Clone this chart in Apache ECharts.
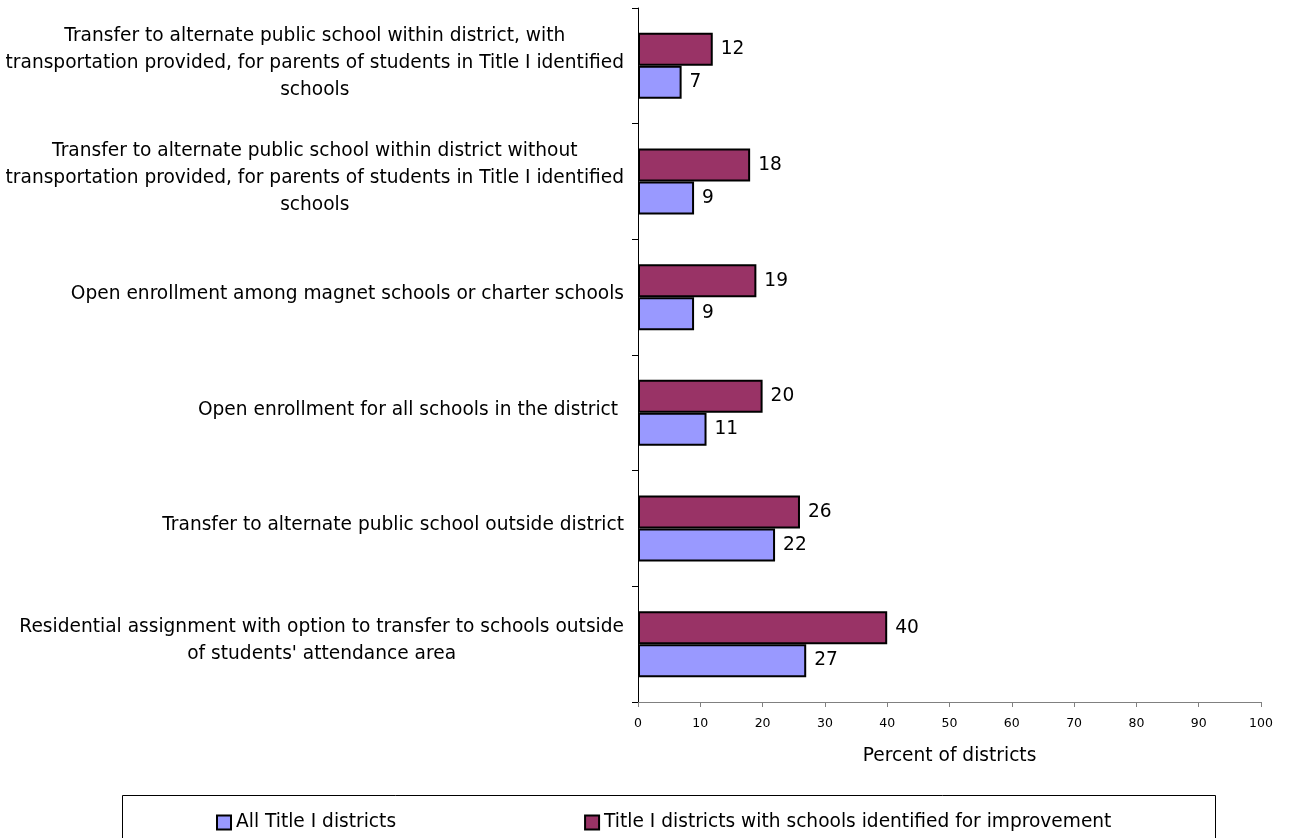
<!DOCTYPE html>
<html>
<head>
<meta charset="utf-8">
<script src="https://cdn.jsdelivr.net/npm/echarts@6/dist/echarts.min.js"></script>
<style>
html,body{margin:0;padding:0;background:#fff;}
#chart{width:1290px;height:838px;}
</style>
</head>
<body>
<div id="chart"></div>
<script>
// Categories, listed top to bottom as in the chart
var categories = [
  "Transfer to alternate public school within district, with\ntransportation provided, for parents of students in Title I identified\nschools",
  "Transfer to alternate public school within district without\ntransportation provided, for parents of students in Title I identified\nschools",
  "Open enrollment among magnet schools or charter schools",
  "Open enrollment for all schools in the district ",
  "Transfer to alternate public school outside district",
  "Residential assignment with option to transfer to schools outside\nof students' attendance area"
];
var seriesNames = ["All Title I districts", "Title I districts with schools identified for improvement"];
var allTitleI = [7, 9, 9, 11, 22, 27];
var identified = [12, 18, 19, 20, 26, 40];
var xTicks = [0, 10, 20, 30, 40, 50, 60, 70, 80, 90, 100];
var xAxisName = "Percent of districts";

var FONT = "DejaVu Sans";
var chart = echarts.init(document.getElementById('chart'), null, {renderer: 'canvas'});

var option = {
  backgroundColor: '#ffffff',
  animation: false,
  textStyle: {fontFamily: FONT, color: '#000'},
  grid: {left: 638, right: 29, top: 8, bottom: 136, containLabel: false},
  legend: {
    data: seriesNames,
    left: 211,
    top: 808,
    itemWidth: 14,
    itemHeight: 14,
    itemGap: 188,
    icon: 'rect',
    textStyle: {fontFamily: FONT, fontSize: 18.6, color: '#000'}
  },
  graphic: [{
    type: 'rect',
    shape: {x: 122.5, y: 795.5, width: 1093, height: 60},
    style: {fill: 'none', stroke: '#000', lineWidth: 1},
    silent: true
  }],
  xAxis: {
    type: 'value',
    min: xTicks[0],
    max: xTicks[xTicks.length - 1],
    interval: xTicks[1] - xTicks[0],
    name: xAxisName,
    nameLocation: 'middle',
    nameGap: 45,
    nameTextStyle: {fontFamily: FONT, fontSize: 18.6, color: '#000'},
    axisLine: {show: true, lineStyle: {color: '#808080', width: 1}},
    axisTick: {show: true, length: 5, lineStyle: {color: '#808080'}},
    axisLabel: {fontFamily: FONT, fontSize: 12.5, color: '#000', margin: 15},
    splitLine: {show: false}
  },
  yAxis: {
    type: 'category',
    inverse: true,
    data: categories,
    axisLine: {show: true, lineStyle: {color: '#000', width: 1}},
    axisTick: {show: true, length: 6, lineStyle: {color: '#000'}},
    axisLabel: {
      margin: 14,
      align: 'right',
      padding: [0, 0, 6, 0],
      formatter: function (v) {
        return v.split('\n').map(function (l) { return '{c|' + l + '}'; }).join('\n');
      },
      rich: {
        c: {align: 'center', fontFamily: FONT, fontSize: 18.6, lineHeight: 27, color: '#000'}
      }
    },
    splitLine: {show: false}
  },
  series: [
    {
      name: seriesNames[1],
      type: 'bar',
      data: identified,
      barGap: '0%',
      barCategoryGap: '43%',
      itemStyle: {color: '#993366', borderColor: '#000', borderWidth: 2},
      label: {show: true, position: 'right', distance: 8, fontFamily: FONT, fontSize: 18.6, color: '#000'}
    },
    {
      name: seriesNames[0],
      type: 'bar',
      data: allTitleI,
      barGap: '0%',
      barCategoryGap: '43%',
      itemStyle: {color: '#9999FF', borderColor: '#000', borderWidth: 2},
      label: {show: true, position: 'right', distance: 8, fontFamily: FONT, fontSize: 18.6, color: '#000'}
    }
  ]
};
chart.setOption(option);
</script>
</body>
</html>
